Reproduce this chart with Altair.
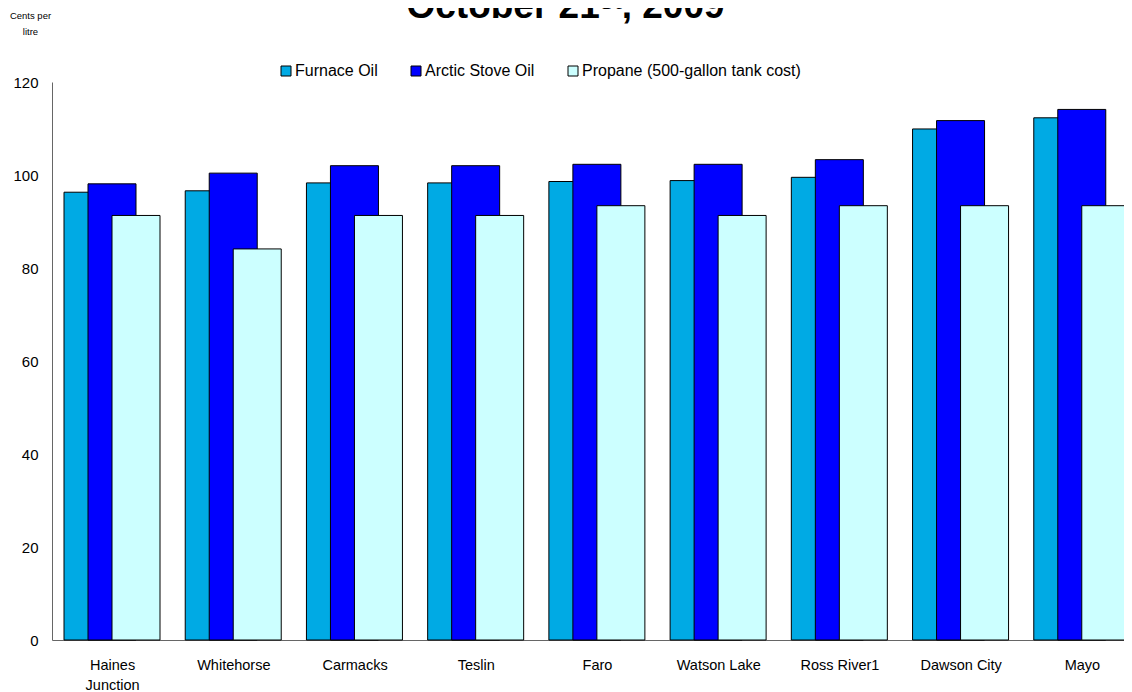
import altair as alt
import pandas as pd

communities = ["Haines Junction", "Whitehorse", "Carmacks", "Teslin", "Faro",
               "Watson Lake", "Ross River1", "Dawson City", "Mayo"]
furnace_oil = [96.3, 96.6, 98.3, 98.3, 98.6, 98.8, 99.5, 109.9, 112.3]
arctic_stove_oil = [98.1, 100.4, 102.0, 102.0, 102.3, 102.3, 103.3, 111.7, 114.1]
propane = [91.3, 84.1, 91.3, 91.3, 93.4, 91.3, 93.4, 93.4, 93.4]
series = ["Furnace Oil", "Arctic Stove Oil", "Propane (500-gallon tank cost)"]
colors = ["#00AAE4", "#0000FF", "#CCFFFF"]
y_ticks = [0, 20, 40, 60, 80, 100, 120]
title_text = ["October 21ˢᵗ, 2009"]

rows = []
for i, c in enumerate(communities):
    for s, vals in zip(series, [furnace_oil, arctic_stove_oil, propane]):
        rows.append({"community": c, "fuel": s, "price": vals[i]})
df = pd.DataFrame(rows)

FONT = "Liberation Sans"

bars = alt.Chart(df).mark_bar(width=48, stroke="black", strokeWidth=1).encode(
    x=alt.X("community:N", sort=communities,
            scale=alt.Scale(range=[0, 1091], paddingInner=0, paddingOuter=0),
            axis=alt.Axis(title=None, labelAngle=0, ticks=False, domainColor="#666666",
                          labelFontSize=14.5, labelFont=FONT, labelColor="black",
                          labelPadding=18,
                          labelExpr="datum.label == 'Haines Junction' ? ['Haines', 'Junction'] : datum.label",
                          labelLineHeight=20)),
    xOffset=alt.XOffset("fuel:N", sort=series,
                        scale=alt.Scale(domain=series, range=[24, 96], paddingInner=0, paddingOuter=0)),
    y=alt.Y("price:Q", scale=alt.Scale(domain=[0, 120], nice=False),
            axis=alt.Axis(values=y_ticks, ticks=False, grid=False, domainColor="#666666",
                          labelFontSize=15, labelFont=FONT, labelColor="black", labelPadding=14,
                          title=["Cents per", "litre"], titleAngle=0, titleFontSize=9.5,
                          titleFontWeight="normal", titleFont=FONT, titleColor="black",
                          titleAlign="center", titleBaseline="middle", titleX=-22, titleY=-67,
                          titleLineHeight=16)),
    color=alt.Color("fuel:N", sort=series,
                    scale=alt.Scale(domain=series, range=colors),
                    legend=alt.Legend(title=None, orient="none", direction="horizontal",
                                      legendX=226, legendY=-19, symbolType="square",
                                      symbolSize=100, symbolStrokeColor="black",
                                      symbolStrokeWidth=1, labelFontSize=16, labelFont=FONT,
                                      labelColor="black", columnPadding=30, labelOffset=1,
                                      labelLimit=0)),
)

title = alt.Chart(pd.DataFrame({"t": title_text})).mark_text(
    font=FONT, fontSize=37, fontWeight="bold", color="black",
    align="center", baseline="alphabetic",
).encode(text="t:N", x=alt.value(513.5), y=alt.value(-64))

chart = alt.layer(bars, title).properties(
    width=1072, height=558,
    autosize=alt.AutoSizeParams(type="none"),
    padding={"left": 44, "top": 74, "right": 0, "bottom": 52},
).configure_view(stroke=None)

chart.save("out.html", embed_options={"renderer": "svg", "actions": False})
